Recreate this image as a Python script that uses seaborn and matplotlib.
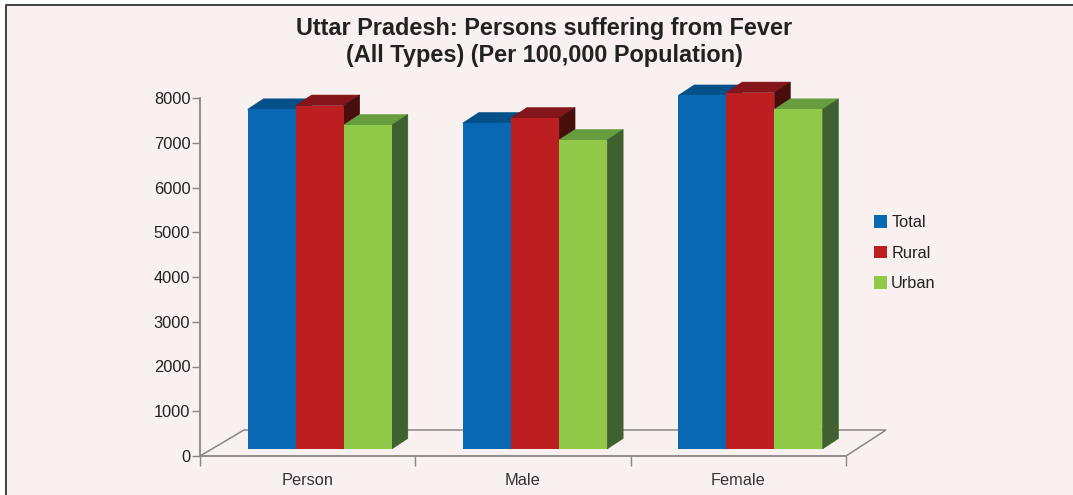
import pandas as pd
import seaborn as sns
import matplotlib.pyplot as plt
from matplotlib.patches import Polygon, Rectangle

categories = ['Person', 'Male', 'Female']
total = [7590, 7285, 7900]
rural = [7675, 7395, 7965]
urban = [7240, 6905, 7590]
yticks = [0, 1000, 2000, 3000, 4000, 5000, 6000, 7000, 8000]

colors = ['#0868b4', '#bc1e22', '#90c948']
top_colors = {'#0868b4': '#06508a', '#bc1e22': '#84151a', '#90c948': '#679d3e'}
side_colors = {'#0868b4': '#043a66', '#bc1e22': '#470e0c', '#90c948': '#3f602f'}
bg = '#f9f1ef'
W, H = 1073, 495

df = pd.DataFrame({'cat': categories, 'Total': total, 'Rural': rural, 'Urban': urban})
df = df.melt(id_vars='cat', var_name='area', value_name='value')

plt.rcParams['font.family'] = ['Liberation Sans', 'DejaVu Sans']
fig = plt.figure(figsize=(W / 100, H / 100), dpi=100, facecolor='white')
# outer panel, open on the right and at the bottom
fig.patches.append(Rectangle((6 / W, 0), 1 - 6 / W, 1 - 5 / H, transform=fig.transFigure,
                             facecolor=bg, edgecolor='none', zorder=-2))
fig.add_artist(plt.Line2D([6 / W, 6 / W, 1], [0, 1 - 5 / H, 1 - 5 / H], color='#333333', lw=1.3, zorder=-1))

ax = fig.add_axes([200 / W, 1 - 456 / H, 646 / W, 358 / H])
ax.patch.set_alpha(0)
sns.barplot(data=df, x='cat', y='value', hue='area', palette=colors, width=0.67, gap=0,
            saturation=1, ax=ax, errorbar=None)
ax.set_xlim(-0.5, 2.5)
ax.set_ylim(0, 8000)

px = 3 / 646       # data units per pixel
py = 8000 / 358

# floor of the 3d box
floor = [(-0.5, 0), (-0.5 + 44 * px, 26 * py), (2.5 + 40 * px, 26 * py), (2.5, 0)]
ax.add_patch(Polygon(floor, closed=False, fill=False, edgecolor='#8a8686', lw=1.1, clip_on=False, zorder=1))

# move bars onto the floor and add top and side faces
# seaborn also leaves empty rectangles for the legend, skip those
bars = [p for p in ax.patches if isinstance(p, Rectangle) and p.get_width() > 0]
bars = sorted(bars, key=lambda p: p.get_x())
for i, p in enumerate(bars):
    p.set_y(7 * py)
    p.set_x(p.get_x() + 12 * px)
    p.set_clip_on(False)
    x0, x1 = p.get_x(), p.get_x() + p.get_width()
    y0, y1 = p.get_y(), p.get_y() + p.get_height()
    c = colors[[sns.utils.to_rgb(k) for k in colors].index(p.get_facecolor()[:3])]
    dx, dy = 16 * px, 10.5 * py
    z = 2 + i * 3
    ax.add_patch(Polygon([(x0, y1), (x1, y1), (x1 + dx, y1 + dy), (x0 + dx, y1 + dy)],
                         facecolor=top_colors[c], edgecolor=top_colors[c], lw=0.4, clip_on=False, zorder=z))
    ax.add_patch(Polygon([(x1, y0), (x1 + dx, y0 + dy), (x1 + dx, y1 + dy), (x1, y1)],
                         facecolor=side_colors[c], edgecolor=side_colors[c], lw=0.4, clip_on=False, zorder=z + 1))
    p.set_zorder(z + 2)

for s in ['top', 'right']:
    ax.spines[s].set_visible(False)
for s in ['left', 'bottom']:
    ax.spines[s].set_color('#8a8686')
    ax.spines[s].set_linewidth(1.3)

ax.set_xlabel('')
ax.set_ylabel('')
ax.set_yticks(yticks)
ax.set_xticks([-0.5, 0.5, 1.5, 2.5])
ax.set_xticklabels([])
ax.set_xticks([0, 1, 2], labels=categories, minor=True)
ax.tick_params(axis='x', which='major', length=7, width=1, color='#8a8686')
ax.tick_params(axis='x', which='minor', length=0, pad=12.5, labelsize=11.8, labelcolor='#333333')
ax.tick_params(axis='y', length=6, width=1, color='#8a8686', pad=1, labelsize=11.8, labelcolor='#222222')

sns.move_legend(ax, 'upper left', bbox_to_anchor=(674 / 646, 0.673), frameon=False, title=None,
                fontsize=11.8, handlelength=0.8, handleheight=0.8, handletextpad=0.25,
                labelspacing=0.95, borderpad=0, borderaxespad=0, labelcolor='#222222')

fig.text(544 / W, 1 - 42 / H, 'Uttar Pradesh: Persons suffering from Fever\n(All Types) (Per 100,000 Population)',
         ha='center', va='center', fontsize=16.95, fontweight='bold', color='#222222', linespacing=1.27)

fig.savefig('out.png', dpi=100, facecolor='white')
